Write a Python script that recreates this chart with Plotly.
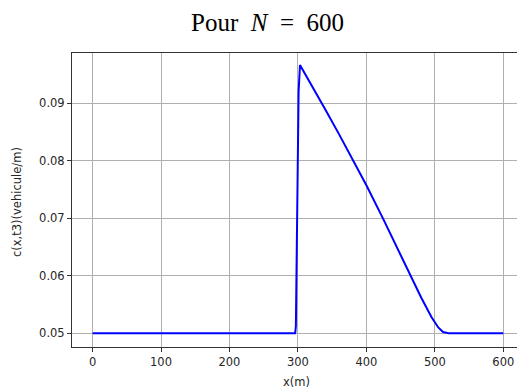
import plotly.graph_objects as go

# Data
x_vals = [0, 100, 200, 296, 297, 298, 300, 301, 303, 320, 340, 360, 381, 400,
          424, 444, 464, 480, 495, 505, 512, 520, 560, 600]
c_vals = [0.05, 0.05, 0.05, 0.05, 0.0512, 0.063, 0.080, 0.092, 0.0966, 0.0931,
          0.0889, 0.0846, 0.0800, 0.0757, 0.0700, 0.0651, 0.0600, 0.0562,
          0.0528, 0.0510, 0.0502, 0.0500, 0.05, 0.05]
x_ticks = [0, 100, 200, 300, 400, 500, 600]
y_ticks = [0.05, 0.06, 0.07, 0.08, 0.09]
y_tick_labels = ["0.05", "0.06", "0.07", "0.08", "0.09"]

fig = go.Figure()
fig.add_trace(go.Scatter(x=x_vals, y=c_vals, mode="lines",
                         line=dict(color="#0000ff", width=2), showlegend=False))

axis_font = dict(family="DejaVu Sans", size=11.5, color="#262626")
fig.update_layout(
    width=517, height=389,
    margin=dict(l=72, r=0, t=53, b=42),
    paper_bgcolor="white", plot_bgcolor="white",
    title=dict(text="Pour&nbsp; <i>N</i>&nbsp; =&nbsp; 600", x=267.5 / 517,
               xref="container", xanchor="center", y=1 - 22 / 389,
               yanchor="middle",
               font=dict(family="Liberation Serif", size=25, color="black")),
    xaxis=dict(range=[-30, 620], tickvals=x_ticks, ticks="outside", ticklen=4,
               tickcolor="#333", showgrid=True, gridcolor="#b0b0b0", gridwidth=1,
               showline=True, linecolor="#333", linewidth=1, mirror=True,
               zeroline=False, tickfont=axis_font, automargin=False),
    yaxis=dict(range=[0.0476, 0.0987], tickvals=y_ticks, ticktext=y_tick_labels,
               ticks="outside", ticklen=4, tickcolor="#333", showgrid=True,
               gridcolor="#b0b0b0", gridwidth=1, showline=True, linecolor="#333",
               linewidth=1, mirror=False, zeroline=False, tickfont=axis_font,
               automargin=False),
    annotations=[
        dict(text="x(m)", xref="paper", yref="paper", x=(296 - 72) / 445,
             y=-(381.5 - 347) / 294, xanchor="center", yanchor="middle",
             showarrow=False, font=axis_font),
        dict(text="c(x,t3)(vehicule/m)", xref="paper", yref="paper",
             x=-(72 - 17) / 445, y=(347 - 202) / 294, textangle=-90,
             xanchor="center", yanchor="middle", showarrow=False, font=axis_font),
    ],
)

fig.write_html("out.html", config={"displayModeBar": False},
               post_script="document.body.style.margin='0';document.body.style.overflow='hidden';")
